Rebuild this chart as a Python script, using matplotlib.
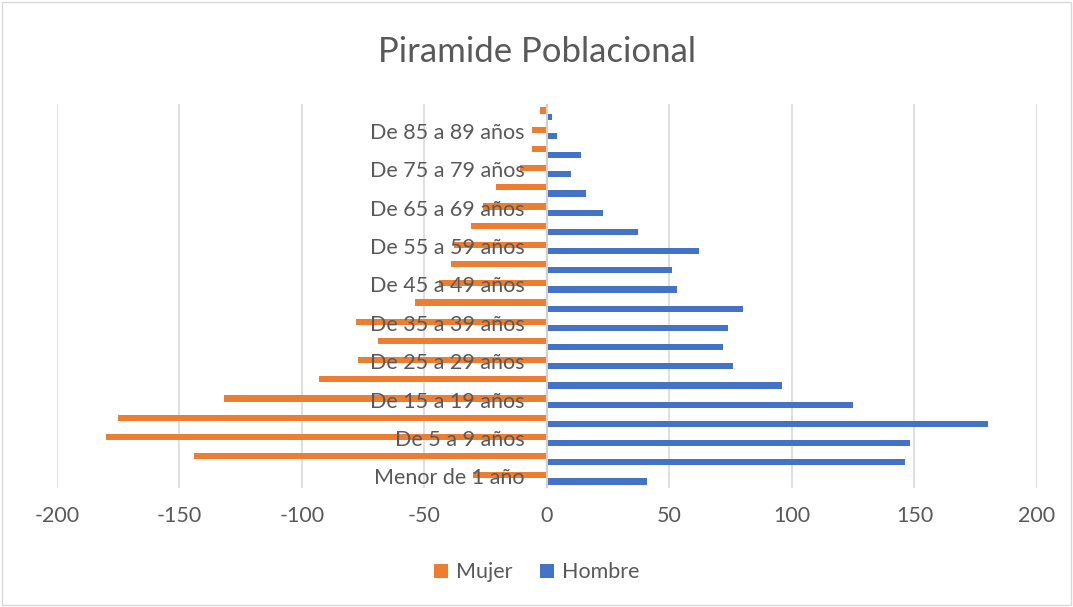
import numpy as np
import matplotlib.pyplot as plt
from matplotlib.patches import Rectangle

plt.rcParams['font.family'] = ['Lato', 'DejaVu Sans']

# age groups, bottom to top
grupos = ["Menor de 1 año", "De 1 a 4 años", "De 5 a 9 años", "De 10 a 14 años",
          "De 15 a 19 años", "De 20 a 24 años", "De 25 a 29 años", "De 30 a 34 años",
          "De 35 a 39 años", "De 40 a 44 años", "De 45 a 49 años", "De 50 a 54 años",
          "De 55 a 59 años", "De 60 a 64 años", "De 65 a 69 años", "De 70 a 74 años",
          "De 75 a 79 años", "De 80 a 84 años", "De 85 a 89 años", "De 90 y más años"]
mujer = [-30, -144, -180, -175, -132, -93, -77, -69, -78, -54,
         -44, -39, -38, -31, -26, -21, -11, -6, -6, -3]
hombre = [41, 146, 148, 180, 125, 96, 76, 72, 74, 80,
          53, 51, 62, 37, 23, 16, 10, 14, 4, 2]
xticks = [-200, -150, -100, -50, 0, 50, 100, 150, 200]

gray_txt = "#595959"
c_mujer = "#ED7D31"
c_hombre = "#4472C4"

fig = plt.figure(figsize=(10.73, 6.07), dpi=100)
ax = fig.add_axes([0.0531, 0.196, 0.9133, 0.6326])

y = np.arange(len(grupos))
h = 0.32
ax.barh(y + h / 2, mujer, height=h, color=c_mujer, label="Mujer", zorder=2)
ax.barh(y - h / 2, hombre, height=h, color=c_hombre, label="Hombre", zorder=2)

ax.set_xlim(-200, 200)
ax.set_ylim(-0.5, len(grupos) - 0.5)
ax.set_xticks(xticks)
ax.set_xticklabels([str(v) for v in xticks])
ax.set_yticks([])
ax.tick_params(axis="x", length=0, pad=13, labelsize=15.5, labelcolor=gray_txt)
for v in xticks:
    ax.axvline(v, color="#d9d9d9", lw=1.2, zorder=1)
ax.axvline(0, color="#d0d0d0", lw=1.5, zorder=3)
for s in ax.spines.values():
    s.set_visible(False)

# every other category label, next to the zero axis
for i in range(0, len(grupos), 2):
    ax.annotate(grupos[i], xy=(0, i), xytext=(-22, 0), textcoords="offset pixels",
                ha="right", va="center", fontsize=15.5, color=gray_txt, zorder=4)

fig.text(0.5, 0.915, "Piramide Poblacional", ha="center", va="center",
         fontsize=25, color=gray_txt)

leg = fig.legend(loc="center", bbox_to_anchor=(0.5, 0.057), ncol=2, frameon=False,
                 fontsize=15.5, handlelength=0.65, handleheight=0.65, handletextpad=0.35,
                 columnspacing=1.3)
for t in leg.get_texts():
    t.set_color(gray_txt)

fig.patches.append(Rectangle((0.002, 0.003), 0.996, 0.994, transform=fig.transFigure,
                             fill=False, edgecolor="#d9d9d9", lw=1))

fig.savefig("out.png", dpi=100)
